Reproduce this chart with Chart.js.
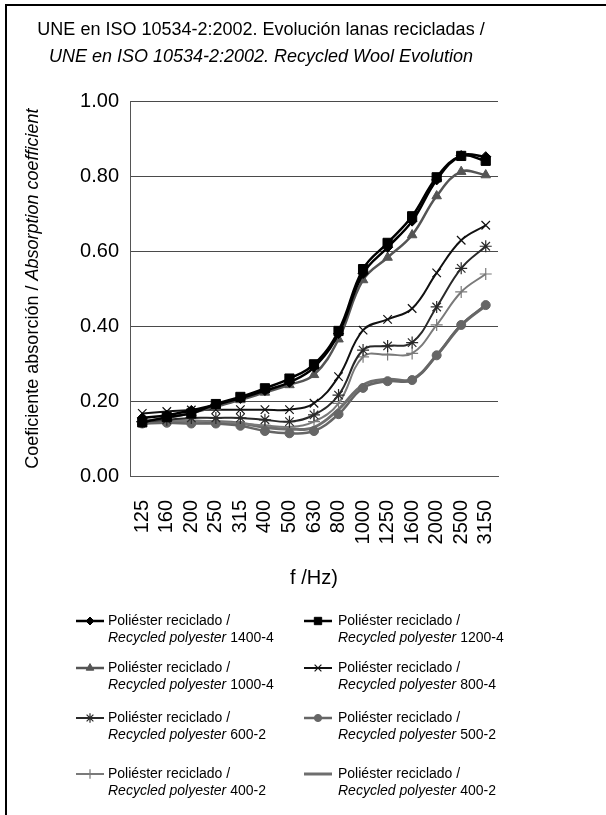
<!DOCTYPE html>
<html><head><meta charset="utf-8">
<script src="https://cdn.jsdelivr.net/npm/chart.js@4.4.1/dist/chart.umd.min.js"></script>
<style>html,body{margin:0;padding:0;background:#fff;}#wrap{width:606px;height:815px;}</style>
</head><body><div id="wrap"><canvas id="c" width="606" height="815" style="width:606px;height:815px"></canvas></div>
<script>
const frequencies = ['125','160','200','250','315','400','500','630','800','1000','1250','1600','2000','2500','3150'];
const s1400_4 = [0.155,0.162,0.175,0.190,0.207,0.228,0.250,0.290,0.380,0.540,0.610,0.680,0.790,0.855,0.852];
const s1200_4 = [0.143,0.157,0.167,0.192,0.211,0.234,0.260,0.298,0.387,0.552,0.622,0.693,0.797,0.854,0.841];
const s1000_4 = [0.145,0.155,0.168,0.185,0.203,0.223,0.243,0.270,0.365,0.523,0.583,0.643,0.747,0.812,0.803];
const s800_4  = [0.167,0.172,0.176,0.177,0.177,0.177,0.177,0.194,0.265,0.389,0.418,0.447,0.542,0.629,0.669];
const s600_2  = [0.145,0.150,0.155,0.155,0.155,0.150,0.145,0.163,0.216,0.336,0.347,0.356,0.451,0.554,0.613];
const s500_2  = [0.140,0.142,0.140,0.140,0.134,0.120,0.114,0.120,0.165,0.235,0.253,0.256,0.322,0.403,0.456];
const s400_2a = [0.145,0.148,0.148,0.145,0.140,0.135,0.131,0.145,0.194,0.318,0.324,0.327,0.403,0.491,0.539];
const s400_2b = [0.147,0.146,0.146,0.145,0.141,0.130,0.125,0.130,0.178,0.243,0.258,0.258,0.322,0.402,0.455];
const seriesCodes = ['1400-4','1200-4','1000-4','800-4','600-2','500-2','400-2','400-2'];
const legendLine1 = 'Poliéster reciclado /';
const legendLine2 = 'Recycled polyester';
const yTickValues = [0,0.2,0.4,0.6,0.8,1.0];
const titleLine1 = 'UNE en ISO 10534-2:2002. Evolución lanas recicladas /';
const titleLine2 = 'UNE en ISO 10534-2:2002. Recycled Wool Evolution';
const yTitleA = 'Coeficiente absorción / ';
const yTitleB = 'Absorption coefficient';
const xTitle = 'f /Hz)';

const FF = '"Liberation Sans", Arial, Helvetica, sans-serif';
const seriesData = [s1400_4,s1200_4,s1000_4,s800_4,s600_2,s500_2,s400_2a,s400_2b];
const styles = [
  {c:'#000000', ps:'rectRot', r:5, bw:2.5, pbw:1, order:1},
  {c:'#000000', ps:'rect', r:6.5, bw:2.5, pbw:1, order:0},
  {c:'#555555', ps:'triangle', r:5.5, bw:2.5, pbw:1, order:2},
  {c:'#111111', ps:'crossRot', r:6, bw:2, pbw:1.2, order:3},
  {c:'#2a2a2a', ps:'star', r:6, bw:2, pbw:1.2, order:4},
  {c:'#666666', ps:'circle', r:4.5, bw:2.5, pbw:1, order:5},
  {c:'#7a7a7a', ps:'cross', r:6, bw:2, pbw:1.2, order:6},
  {c:'#6e6e6e', ps:false, r:0, bw:3, pbw:0, order:7}
];

const datasets = seriesData.map((d,i)=>({
  label: legendLine1 + ' ' + legendLine2 + ' ' + seriesCodes[i],
  data: d,
  borderColor: styles[i].c,
  backgroundColor: styles[i].c,
  pointBackgroundColor: styles[i].c,
  pointBorderColor: styles[i].c,
  pointStyle: styles[i].ps,
  pointRadius: styles[i].r,
  pointHoverRadius: styles[i].r,
  pointBorderWidth: styles[i].pbw,
  borderWidth: styles[i].bw,
  tension: 0.4,
  fill: false,
  order: styles[i].order
}));

const framePlugin = {
  id:'frame',
  beforeDraw(chart){
    const ctx = chart.ctx;
    ctx.save();
    ctx.fillStyle = '#fff';
    ctx.fillRect(0,0,chart.width,chart.height);
    ctx.fillStyle = '#000';
    ctx.fillRect(5,4,601,2);
    ctx.fillRect(5,4,2,811);
    ctx.restore();
  },
  afterDraw(chart){
    const ctx = chart.ctx;
    const ca = chart.chartArea;
    // y axis title (mixed normal / italic)
    ctx.save();
    const fN = '18px ' + FF, fI = 'italic 18px ' + FF;
    ctx.font = fN; const wA = ctx.measureText(yTitleA).width;
    ctx.font = fI; const wB = ctx.measureText(yTitleB).width;
    const cy = (ca.top + ca.bottom)/2;
    ctx.translate(38, cy);
    ctx.rotate(-Math.PI/2);
    ctx.fillStyle = '#000';
    ctx.textBaseline = 'alphabetic';
    ctx.textAlign = 'left';
    const start = -(wA+wB)/2;
    ctx.font = fN; ctx.fillText(yTitleA, start, 0);
    ctx.font = fI; ctx.fillText(yTitleB, start + wA, 0);
    ctx.restore();

    // legend
    const colLine = [76, 304], colText = [108, 338];
    const rowY = [621, 668, 718, 774];
    chart.data.datasets.forEach((ds,i)=>{
      const col = i % 2, row = Math.floor(i/2);
      const x0 = colLine[col], y1 = rowY[row], y2 = y1 + 17;
      ctx.save();
      ctx.strokeStyle = ds.borderColor;
      ctx.lineWidth = ds.borderWidth;
      ctx.beginPath(); ctx.moveTo(x0, y1); ctx.lineTo(x0 + 28, y1); ctx.stroke();
      if (ds.pointStyle) {
        ctx.fillStyle = ds.pointBackgroundColor;
        ctx.strokeStyle = ds.pointBorderColor;
        ctx.lineWidth = ds.pointBorderWidth;
        Chart.helpers.drawPoint(ctx, {pointStyle: ds.pointStyle, rotation: 0, radius: ds.pointRadius*0.8, borderWidth: ds.pointBorderWidth}, x0 + 14, y1);
      }
      ctx.fillStyle = '#000';
      ctx.textBaseline = 'middle';
      ctx.textAlign = 'left';
      ctx.font = '14px ' + FF;
      ctx.fillText(legendLine1, colText[col], y1);
      ctx.font = 'italic 14px ' + FF;
      ctx.fillText(legendLine2, colText[col], y2);
      const w = ctx.measureText(legendLine2).width;
      ctx.font = '14px ' + FF;
      ctx.fillText(' ' + seriesCodes[i], colText[col] + w, y2);
      ctx.restore();
    });
  }
};

new Chart(document.getElementById('c'), {
  type: 'line',
  data: { labels: frequencies, datasets },
  plugins: [framePlugin],
  options: {
    responsive: false,
    animation: false,
    devicePixelRatio: 1,
    layout: { padding: { left: 0, right: 84, top: 0, bottom: 221 } },
    plugins: {
      legend: { display: false },
      tooltip: { enabled: false },
      title: { display: true, text: titleLine1, color: '#000', font: { family: FF, size: 18, weight: 'normal' }, padding: { top: 19, bottom: 6 } },
      subtitle: { display: true, text: titleLine2, color: '#000', font: { family: FF, size: 18, style: 'italic', weight: 'normal' }, padding: { top: 0, bottom: 33 } }
    },
    scales: {
      x: {
        type: 'category',
        offset: true,
        grid: { display: false, drawTicks: false },
        border: { display: true, color: '#555', width: 1 },
        ticks: { autoSkip: false, minRotation: 90, maxRotation: 90, padding: 24, color: '#000', font: { family: FF, size: 20 } },
        title: { display: true, text: xTitle, color: '#000', font: { family: FF, size: 20 }, padding: { top: 0, bottom: 4 } },
        afterFit(s){ s.height = 118; }
      },
      y: {
        min: 0, max: 1,
        afterBuildTicks(s){ s.ticks = yTickValues.map(v=>({value:v})); },
        grid: { color: '#4a4a4a', lineWidth: 1, drawTicks: false },
        border: { display: true, color: '#555', width: 1 },
        ticks: { padding: 11, color: '#000', font: { family: FF, size: 20 }, callback: v => Number(v).toFixed(2) },
        afterFit(s){ s.width = 130; }
      },
      y2: {
        position: 'right', min: 0, max: 1, display: true,
        grid: { display: false, drawTicks: false },
        border: { display: false },
        ticks: { display: false },
        afterFit(s){ s.width = 24; }
      }
    }
  }
});
</script></body></html>
